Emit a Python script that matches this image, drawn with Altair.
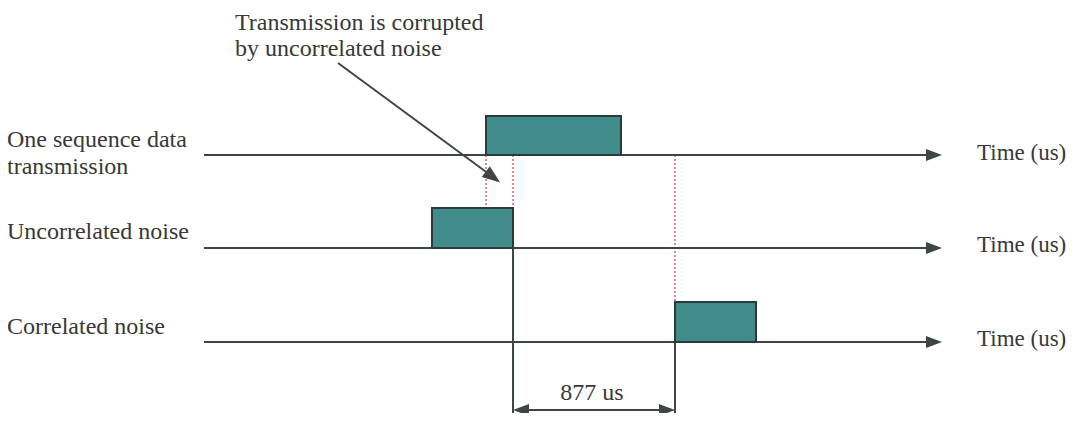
import altair as alt
import pandas as pd

# ---- diagram coordinates (x: time axis position, y: vertical level) ----
X_DOMAIN = [8, 1067]
Y_DOMAIN = [8, 413]

timeline_y = [155, 248, 342]
timeline_start = [204, 204, 204]
timeline_end = [934, 934, 934]

box_x = [486, 432, 675]
box_x2 = [621, 513, 756]
box_top = [116, 208, 302]
box_bottom = [155, 248, 342]

marker_x = [486, 513, 675]
marker_y = [155, 155, 155]
marker_y2 = [208, 208, 302]

edge_x = [513, 675]
edge_y = [248, 342]
edge_y2 = [422, 422]

dim_y = 410
dim_x = [513, 675]
dim_label = "877 us"

note_lines = ["Transmission is corrupted", "by uncorrelated noise"]
note_x = [235, 235]
note_y = [30, 56]
note_from = (338, 63)
note_to = (493, 177)

row_texts = ["One sequence data", "transmission", "Uncorrelated noise", "Correlated noise"]
row_text_y = [147, 174, 239, 334]
axis_texts = ["Time (us)", "Time (us)", "Time (us)"]
axis_text_y = [160, 252, 346]

LINE = "#3d4545"
FILL = "#3f8c8a"
RED = "#e0606e"
TEXT = "#383838"
FONT = "Liberation Serif"

xs = alt.Scale(domain=X_DOMAIN, nice=False, zero=False)
ys = alt.Scale(domain=Y_DOMAIN, nice=False, zero=False, reverse=True)


def X(f):
    return alt.X(f, type="quantitative", scale=xs, axis=None)


def Y(f):
    return alt.Y(f, type="quantitative", scale=ys, axis=None)


# segments
seg_rows = []
for y, a, b in zip(timeline_y, timeline_start, timeline_end):
    seg_rows.append(dict(x=a, x2=b, y=y, y2=y))
for x, a, b in zip(edge_x, edge_y, edge_y2):
    seg_rows.append(dict(x=x, x2=x, y=a, y2=b))
seg_rows.append(dict(x=dim_x[0] + 8, x2=dim_x[1] - 8, y=dim_y, y2=dim_y))
seg_rows.append(dict(x=note_from[0], x2=note_to[0], y=note_from[1], y2=note_to[1]))
segs = pd.DataFrame(seg_rows)

seg_layer = alt.Chart(segs).mark_rule(color=LINE, strokeWidth=2).encode(
    x=X("x"), x2="x2", y=Y("y"), y2="y2"
)

red = pd.DataFrame(dict(x=marker_x, y=marker_y, y2=marker_y2))
red_layer = alt.Chart(red).mark_rule(color=RED, strokeWidth=1.5, strokeDash=[2, 2]).encode(
    x=X("x"), y=Y("y"), y2="y2"
)

boxes = pd.DataFrame(dict(x=box_x, x2=box_x2, y=box_top, y2=box_bottom))
box_layer = alt.Chart(boxes).mark_rect(fill=FILL, stroke="#2c3a3a", strokeWidth=2).encode(
    x=X("x"), x2="x2", y=Y("y"), y2="y2"
)

# arrowheads (centre points, angle)
heads = pd.DataFrame(dict(
    x=list(timeline_end) + [dim_x[0] + 8, dim_x[1] - 8, note_to[0]],
    y=timeline_y + [dim_y, dim_y, note_to[1]],
    a=[0, 0, 0, 180, 0, 36.7],
    s=[256, 256, 256, 256, 256, 324],
))
head_layer = alt.Chart(heads).mark_point(
    shape="M1,0L-1,-0.75L-1,0.75Z", filled=True, color=LINE, opacity=1, strokeWidth=0
).encode(
    x=X("x"), y=Y("y"),
    angle=alt.Angle("a:Q", scale=None),
    size=alt.Size("s:Q", scale=None),
)

texts = pd.DataFrame(dict(
    x=[7] * len(row_texts),
    y=row_text_y,
    t=row_texts,
))
text_layer = alt.Chart(texts).mark_text(
    align="left", baseline="alphabetic", font=FONT, fontSize=24, color=TEXT
).encode(x=X("x"), y=Y("y"), text="t:N")

note_df = pd.DataFrame(dict(x=note_x, y=note_y, t=note_lines))
note_layer = alt.Chart(note_df).mark_text(
    align="left", baseline="alphabetic", font=FONT, fontSize=24, color=TEXT
).encode(x=X("x"), y=Y("y"), text="t:N")

axis_df = pd.DataFrame(dict(x=[977] * len(axis_texts), y=axis_text_y, t=axis_texts))
axis_layer = alt.Chart(axis_df).mark_text(
    align="left", baseline="alphabetic", font=FONT, fontSize=23, color=TEXT
).encode(x=X("x"), y=Y("y"), text="t:N")

dim_text = pd.DataFrame(dict(x=[(dim_x[0] + dim_x[1]) / 2 - 2], y=[400], t=[dim_label]))
dim_layer = alt.Chart(dim_text).mark_text(
    align="center", baseline="alphabetic", font=FONT, fontSize=24, color=TEXT
).encode(x=X("x"), y=Y("y"), text="t:N")

chart = alt.layer(
    red_layer, seg_layer, box_layer, head_layer, text_layer, note_layer, axis_layer, dim_layer
).properties(
    width=1059, height=405,
    autosize=alt.AutoSizeParams(type="none"),
    padding=0,
    background="white",
).configure_view(strokeWidth=0, stroke=None)

chart.save("out.html", embed_options={"renderer": "svg", "actions": False})
